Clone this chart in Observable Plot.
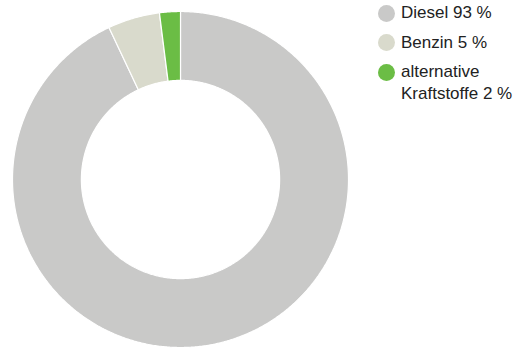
<!DOCTYPE html>
<html>
<head>
<meta charset="utf-8">
<script src="https://cdn.jsdelivr.net/npm/d3@7"></script>
<script src="https://cdn.jsdelivr.net/npm/@observablehq/plot@0.6"></script>
<style>
  html, body { margin: 0; padding: 0; background: #fff; }
  #wrap { position: relative; width: 519px; height: 351px; }
  #chart { position: absolute; left: 0; top: 0; }
  #legend {
    position: absolute; left: 378px; top: 2px;
    display: flex; flex-direction: column; gap: 7.5px;
    font-family: Arial, "Liberation Sans", Helvetica, sans-serif;
    font-size: 17px; line-height: 22px; color: #222;
  }
  .item { display: flex; align-items: flex-start; }
  .swatch { width: 17px; height: 17px; border-radius: 50%; flex: none; margin-top: 2.5px; margin-right: 6px; }
</style>
</head>
<body>
<div id="wrap">
  <div id="chart"></div>
  <div id="legend"></div>
</div>
<script>
// Kraftstoffanteile
const labels = ["Diesel", "Benzin", "alternative Kraftstoffe"];
const legendLines = [["Diesel 93 %"], ["Benzin 5 %"], ["alternative", "Kraftstoffe 2 %"]];
const shares = [93, 5, 2];
const colors = ["#c9c9c8", "#d9dacc", "#6bbd45"];

const innerRatio = 0.59;

// Slice angles, clockwise from 12 o'clock
const pie = d3.pie().sort(null).value(d => d.share);
const arcs = pie(labels.map((label, i) => ({label, share: shares[i]})));

// Ring outline for each slice: outer edge forward, inner edge back
const ring = [];
for (const a of arcs) {
  const n = Math.max(8, Math.ceil((a.endAngle - a.startAngle) * 120));
  const pts = [];
  for (let k = 0; k <= n; k++) {
    const t = a.startAngle + (a.endAngle - a.startAngle) * k / n;
    pts.push({x: Math.sin(t), y: Math.cos(t)});
  }
  for (let k = n; k >= 0; k--) {
    const t = a.startAngle + (a.endAngle - a.startAngle) * k / n;
    pts.push({x: innerRatio * Math.sin(t), y: innerRatio * Math.cos(t)});
  }
  pts.forEach(p => ring.push({...p, label: a.data.label}));
}

const chart = Plot.plot({
  width: 519,
  height: 351,
  margin: 0,
  x: {domain: [-1, 1], range: [12, 348], axis: null},
  y: {domain: [-1, 1], range: [347, 11], axis: null},
  color: {domain: labels, range: colors},
  marks: [
    Plot.line(ring, {
      x: "x", y: "y", z: "label",
      fill: "label", stroke: "white", strokeWidth: 1.2,
      strokeLinejoin: "miter", curve: "linear-closed"
    })
  ]
});
document.getElementById("chart").appendChild(chart);

const legend = document.getElementById("legend");
labels.forEach((label, i) => {
  const item = document.createElement("div");
  item.className = "item";
  const sw = document.createElement("span");
  sw.className = "swatch";
  sw.style.background = colors[i];
  const txt = document.createElement("div");
  txt.innerHTML = legendLines[i].join("<br>");
  item.appendChild(sw);
  item.appendChild(txt);
  legend.appendChild(item);
});
</script>
</body>
</html>
